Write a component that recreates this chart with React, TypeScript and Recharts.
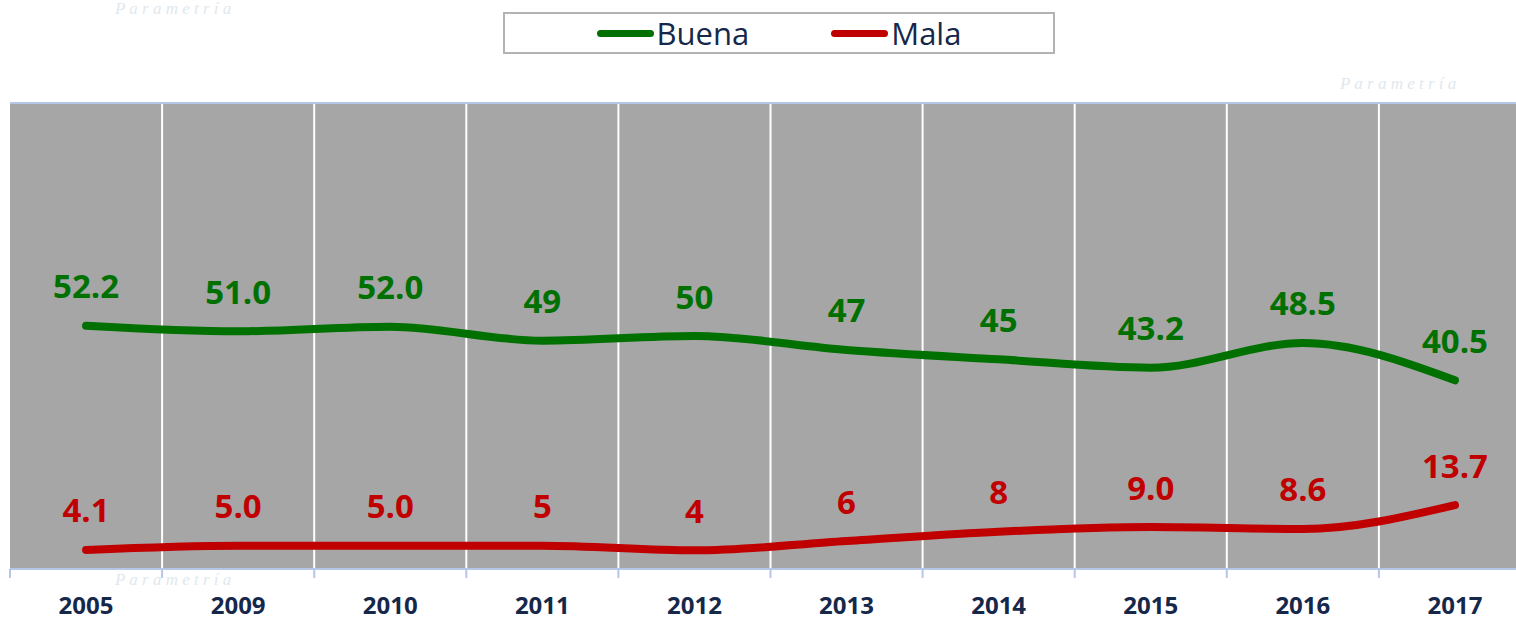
import React from 'react';
import { LineChart, Line, XAxis, YAxis, CartesianGrid, LabelList, ReferenceLine } from 'recharts';

const years = ['2005', '2009', '2010', '2011', '2012', '2013', '2014', '2015', '2016', '2017'];
const buena = [52.2, 51.0, 52.0, 49, 50, 47, 45, 43.2, 48.5, 40.5];
const buenaLabels = ['52.2', '51.0', '52.0', '49', '50', '47', '45', '43.2', '48.5', '40.5'];
const mala = [4.1, 5.0, 5.0, 5, 4, 6, 8, 9.0, 8.6, 13.7];
const malaLabels = ['4.1', '5.0', '5.0', '5', '4', '6', '8', '9.0', '8.6', '13.7'];

const series = [
  { key: 'buena', label: 'buenaLabel', name: 'Buena', color: '#007000' },
  { key: 'mala', label: 'malaLabel', name: 'Mala', color: '#c00000' },
];

const data = years.map((year, i) => ({
  year,
  buena: buena[i],
  mala: mala[i],
  buenaLabel: buenaLabels[i],
  malaLabel: malaLabels[i],
}));

const W = 1540;
const H = 620;
const X_AXIS_H = 51;
const margin = { top: 103, right: 9, bottom: 0, left: 10 };
const plotW = W - margin.left - margin.right;
const bw = plotW / years.length;
const FONT = '"Open Sans", "Noto Sans", sans-serif';
const NAVY = '#16284a';
const AXIS = '#b4c7e7';

const YearTick = (props: any) => {
  const { x, y, payload, index } = props;
  return (
    <g>
      <line x1={x - bw / 2} x2={x - bw / 2} y1={y} y2={y + 9} stroke={AXIS} strokeWidth={2} />
      {index === years.length - 1 && (
        <line x1={x + bw / 2} x2={x + bw / 2} y1={y} y2={y + 9} stroke={AXIS} strokeWidth={2} />
      )}
      <text x={x} y={y + 35} textAnchor="middle" dominantBaseline="central"
        fontFamily={FONT} fontWeight={700} fontSize={24} fill={NAVY}>
        {payload.value}
      </text>
    </g>
  );
};

const makeLabel = (color: string) => (props: any) => {
  const { x, y, value } = props;
  return (
    <text x={x} y={y - 40} textAnchor="middle" dominantBaseline="central"
      fontFamily={FONT} fontWeight={700} fontSize={33} fill={color}>
      {value}
    </text>
  );
};

const watermark = [
  { text: 'P a r a m e t r í a', left: 115, top: 0 },
  { text: 'P a r a m e t r í a', left: 1340, top: 75 },
  { text: 'P a r a m e t r í a', left: 115, top: 571 },
];

export default function App() {
  return (
    <div style={{ position: 'absolute', left: 0, top: 0, width: 1516, height: 620, overflow: 'hidden', background: '#fff' }}>
      {watermark.map((w, i) => (
        <div key={i} style={{ position: 'absolute', left: w.left, top: w.top, fontFamily: 'serif', fontStyle: 'italic', fontSize: 17, lineHeight: '17px', color: '#dfe8ee' }}>
          {w.text}
        </div>
      ))}
      <div style={{ position: 'absolute', left: 0, top: 0 }}>
        <LineChart width={W} height={H} data={data} margin={margin}>
          <CartesianGrid
            fill="#a6a6a6"
            horizontal={false}
            stroke="#ffffff"
            strokeWidth={2}
            verticalCoordinatesGenerator={({ offset }: any) =>
              years.slice(1).map((_, i) => offset.left + (i + 1) * bw)
            }
          />
          <XAxis
            dataKey="year"
            padding={{ left: bw / 2, right: bw / 2 }}
            axisLine={{ stroke: AXIS, strokeWidth: 2 }}
            tickLine={false}
            tickSize={0}
            tickMargin={0}
            height={X_AXIS_H}
            interval={0}
            tick={<YearTick />}
          />
          <YAxis domain={[0, 100]} width={0} tick={false} tickLine={false} axisLine={{ stroke: AXIS, strokeWidth: 2 }} />
          <ReferenceLine y={100} stroke={AXIS} strokeWidth={2} ifOverflow="visible" />
          {series.map((s) => (
            <Line key={s.key} type="monotone" dataKey={s.key} name={s.name} stroke={s.color}
              strokeWidth={8} strokeLinecap="round" dot={false} isAnimationActive={false}>
              <LabelList dataKey={s.label} content={makeLabel(s.color)} />
            </Line>
          ))}
        </LineChart>
      </div>
      <div style={{
        position: 'absolute', left: 503, top: 12, width: 548, height: 38,
        border: '2px solid #b3b3b3', background: 'rgba(255,255,255,0.6)',
        display: 'flex', alignItems: 'center', justifyContent: 'center', gap: 82,
        fontFamily: FONT, fontSize: 31, color: NAVY,
      }}>
        {series.map((s) => (
          <div key={s.key} style={{ display: 'flex', alignItems: 'center', gap: 3 }}>
            <div style={{ width: 57, height: 7, borderRadius: 4, background: s.color }} />
            <span style={{ lineHeight: '38px' }}>{s.name}</span>
          </div>
        ))}
      </div>
    </div>
  );
}
